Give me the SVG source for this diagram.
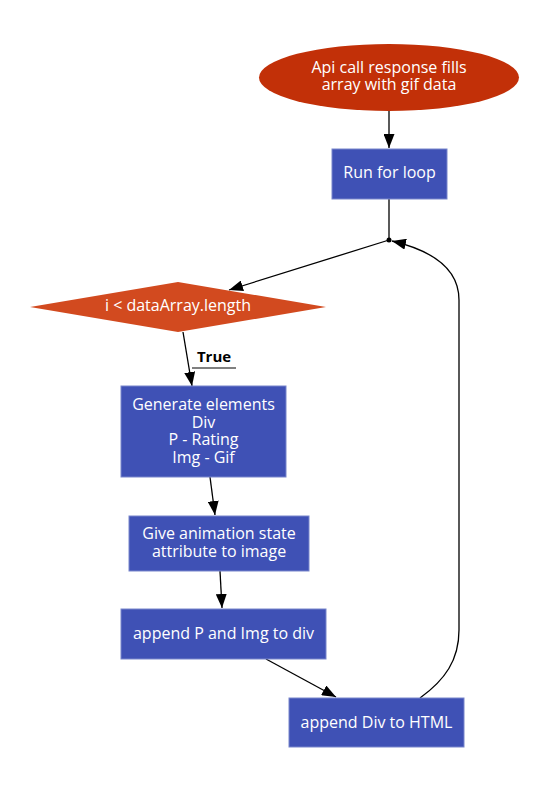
<svg xmlns="http://www.w3.org/2000/svg" width="557" height="788" viewBox="0 0 557 788">
<style>
.box{fill:#3F51B5;stroke:#7986CB;stroke-width:1}
.t{font-family:"Open Sans","Noto Sans",sans-serif;font-size:16px;fill:#ffffff;text-anchor:middle}
.e{stroke:#000;stroke-width:1.3;fill:none}
</style>
<defs>
<marker id="arr" viewBox="0 0 14 11" refX="14" refY="5.5" markerWidth="14" markerHeight="11" markerUnits="userSpaceOnUse" orient="auto">
<path d="M0,0 L14,5.5 L0,11 z" fill="#000"/>
</marker>
</defs>
<rect width="557" height="788" fill="#fff"/>
<g id="connectors">
<path class="e" d="M389,111 L389,148" marker-end="url(#arr)"/>
<path class="e" d="M389,199 L389,240"/>
<circle cx="389" cy="240" r="2.5" fill="#000"/>
<path class="e" d="M389,240 L229,290" marker-end="url(#arr)"/>
<path class="e" d="M183,332 L192,386" marker-end="url(#arr)"/>
<path class="e" d="M210,477 L215,515" marker-end="url(#arr)"/>
<path class="e" d="M220,571 L222,608" marker-end="url(#arr)"/>
<path class="e" d="M266,659 L336,697" marker-end="url(#arr)"/>
<path class="e" d="M420,698 C445,680 459,660 459,630 L459,300 C459,268 430,250 392,241" marker-end="url(#arr)"/>
<text x="214" y="362" style="font-family:'Open Sans','Noto Sans',sans-serif;font-size:15px;font-weight:bold;fill:#000" text-anchor="middle">True</text>
<line x1="192" y1="368" x2="236" y2="368" stroke="#000" stroke-width="1"/>
</g>
<g id="start">
<ellipse cx="389" cy="77.5" rx="130" ry="33.5" fill="#C23008"/>
<text class="t" x="389" y="73">Api call response fills</text>
<text class="t" x="389" y="90">array with gif data</text>
</g>
<g id="loop">
<rect class="box" x="332" y="149" width="115" height="50"/>
<text class="t" x="389.5" y="178">Run for loop</text>
</g>
<g id="cond">
<polygon points="30,307 178,282 326,307 178,332" fill="#D24A1F"/>
<text class="t" x="178" y="311">i &lt; dataArray.length</text>
</g>
<g id="generate">
<rect class="box" x="121" y="386" width="165" height="91"/>
<text class="t" x="203.5" y="410">Generate elements</text>
<text class="t" x="203.5" y="427.5">Div</text>
<text class="t" x="203.5" y="445">P - Rating</text>
<text class="t" x="203.5" y="462.5">Img - Gif</text>
</g>
<g id="animation">
<rect class="box" x="129" y="516" width="180" height="55"/>
<text class="t" x="219" y="539">Give animation state</text>
<text class="t" x="219" y="556.5">attribute to image</text>
</g>
<g id="appendP">
<rect class="box" x="121" y="609" width="205" height="50"/>
<text class="t" x="223.5" y="639">append P and Img to div</text>
</g>
<g id="appendDiv">
<rect class="box" x="289" y="698" width="175" height="49"/>
<text class="t" x="376.5" y="728">append Div to HTML</text>
</g>
</svg>
